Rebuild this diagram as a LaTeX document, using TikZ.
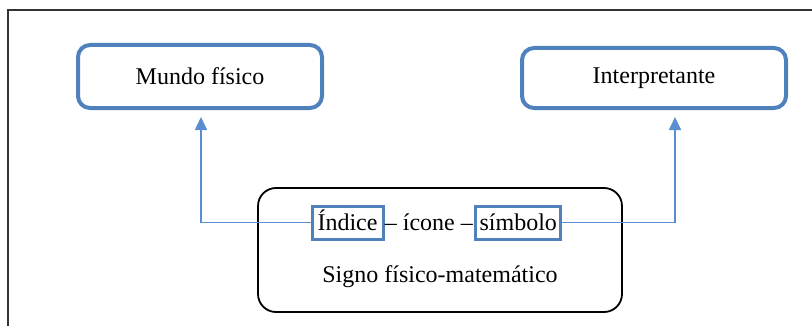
\documentclass[tikz,border=0pt]{standalone}
\usepackage{fontspec}
\setmainfont{Liberation Serif}
\usepackage{xcolor}
\usepackage{tikz}
\usetikzlibrary{positioning,arrows.meta}
\definecolor{SGNblue}{HTML}{4F81BD}
\definecolor{SGNline}{HTML}{5B8ED0}
\definecolor{SGNframe}{HTML}{333333}
\tikzset{
  worldbox/.style={rounded corners=6pt, draw=SGNblue, line width=2pt, fill=white, align=center, inner sep=0pt, font=\fontsize{12}{14}\selectfont},
  signbox/.style={rounded corners=9pt, draw=black, line width=0.9pt, fill=white, inner sep=0pt},
  termbox/.style={draw=SGNblue, line width=1.5pt, inner sep=0pt, minimum height=16.5pt, text height=9pt, text depth=1.5pt, font=\fontsize{12}{14}\selectfont},
  termtxt/.style={inner xsep=1pt, inner ysep=0pt, text height=9pt, text depth=1.5pt, font=\fontsize{12}{14}\selectfont},
  linkarr/.style={-{Triangle[length=6.5pt,width=6pt]}, draw=SGNline, line width=0.8pt}
}
\begin{document}
\begin{tikzpicture}[x=0.5pt,y=-0.5pt]
\useasboundingbox (0,0) rectangle (812,326);
% frame
\draw[SGNframe, line width=1pt] (812,10) -- (8,10) -- (8,326);
% upper boxes
\node[worldbox, minimum width=122pt, minimum height=31.5pt] (mundo) at (200,76.5) {Mundo físico};
\node[worldbox, minimum width=132pt, minimum height=30pt] (interp) at (654,78) {Interpretante};
% sign box
\node[signbox, minimum width=182pt, minimum height=62pt] (signo) at (440,250) {};
\node[termbox, minimum width=35.5pt] (indice) at (347.5,222.5) {Índice};
\node[termtxt, right=-1pt of indice] (icone) {– ícone –};
\node[termbox, minimum width=42.5pt, right=-0.5pt of icone] (simbolo) {símbolo};
\node[font=\fontsize{12}{14}\selectfont] (signotxt) at (440,277) {Signo físico-matemático};
% links
\coordinate (tipL) at (201,117);
\coordinate (tipR) at (675,117);
\draw[linkarr] (indice.west) -| (tipL);
\draw[linkarr] (simbolo.east) -| (tipR);
\end{tikzpicture}
\end{document}
